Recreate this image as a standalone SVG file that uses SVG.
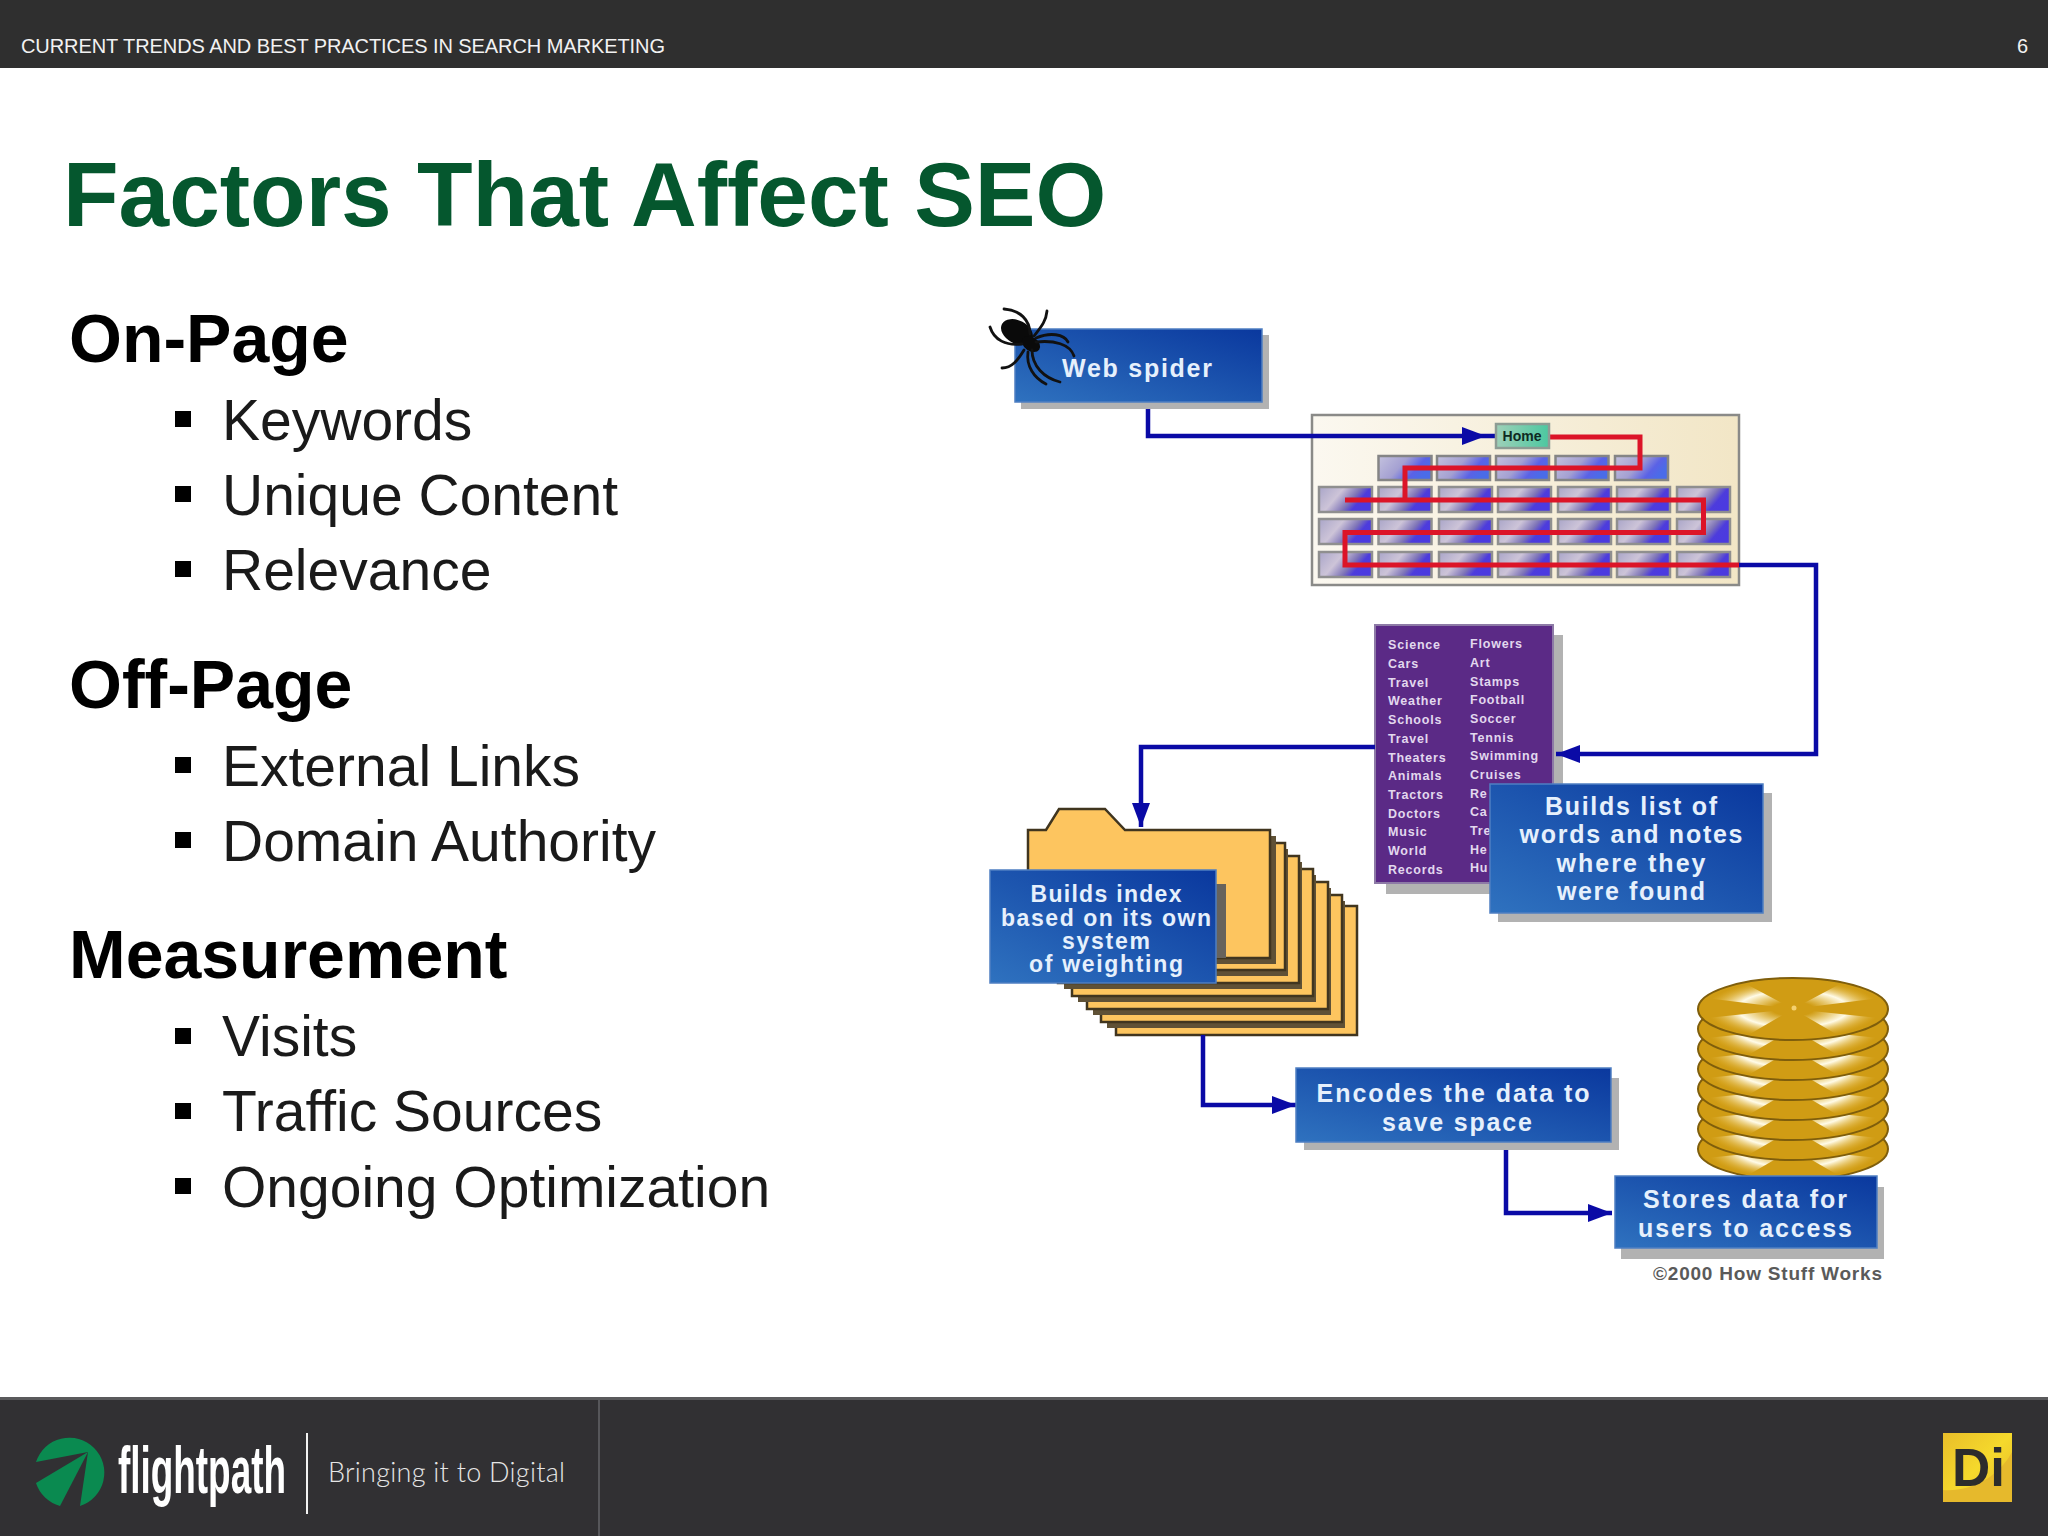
<svg xmlns="http://www.w3.org/2000/svg" width="2048" height="1536" viewBox="0 0 2048 1536">
<style>
text{font-family:"Liberation Sans",Arial,sans-serif}
.h{font-size:68px;font-weight:700;fill:#000}
.b{font-size:57px;fill:#1a1a1a}
.sq{fill:#000;width:16px;height:16px}
.box{fill:url(#blue);stroke:#4f7fc2;stroke-width:1.5}
.sh{fill:#b2b2b2}
.bt{font-weight:700;fill:#e6f0fc;text-anchor:middle}
.bt25{font-size:25px}
.bt23{font-size:23px}
.li{font-size:12.5px;font-weight:700;fill:#e2d8ee;letter-spacing:.8px}
.con{fill:none;stroke:#0a0aa6;stroke-width:4.5;stroke-linejoin:miter}
.red{fill:none;stroke:#dc1428;stroke-width:5}
.sheet{fill:#fdc55f;stroke:#40351f;stroke-width:2.5}
.sheetsh{fill:#5f5136}
.leg{fill:none;stroke:#111;stroke-width:2.8;stroke-linecap:round}
</style>
<defs>
<linearGradient id="blue" x1="0" y1="1" x2="1" y2="0"><stop offset="0" stop-color="#2f72bf"/><stop offset="1" stop-color="#0a389e"/></linearGradient>
<linearGradient id="pgf" x1="0" y1="0" x2="1" y2="0.4"><stop offset="0" stop-color="#a9a5c8"/><stop offset=".42" stop-color="#cdc4d8"/><stop offset=".7" stop-color="#7e74b8"/><stop offset=".85" stop-color="#4d3cdc"/><stop offset="1" stop-color="#4b3ae0"/></linearGradient>
<linearGradient id="pgt" x1="0" y1="0" x2="1" y2="0.4"><stop offset="0" stop-color="#c4c2de"/><stop offset=".5" stop-color="#a4a0d2"/><stop offset=".8" stop-color="#5a62e6"/><stop offset="1" stop-color="#4a6ce8"/></linearGradient>
<linearGradient id="map" x1="0" y1="0" x2="1" y2="0"><stop offset="0" stop-color="#fbf8f0"/><stop offset="1" stop-color="#f2e6c6"/></linearGradient>
<linearGradient id="home" x1="0" y1="0" x2="1" y2="0"><stop offset="0" stop-color="#9ed0b8"/><stop offset="1" stop-color="#4cc8a0"/></linearGradient>
<linearGradient id="di" x1="0" y1="0" x2="1" y2="1"><stop offset="0" stop-color="#e9be2a"/><stop offset=".5" stop-color="#f5d92c"/><stop offset="1" stop-color="#e4b82a"/></linearGradient>
<radialGradient id="glint" gradientUnits="userSpaceOnUse" cx="0" cy="0" r="95" gradientTransform="scale(1 .33)"><stop offset=".22" stop-color="#fff3c0" stop-opacity="0"/><stop offset=".58" stop-color="#fffbe8"/><stop offset=".92" stop-color="#e8bc40" stop-opacity="0"/></radialGradient>
<rect id="pg" width="53" height="25" fill="url(#pgf)" stroke="#8f8f8f" stroke-width="2.5"/>
<rect id="pt" width="53" height="24" fill="url(#pgt)" stroke="#858585" stroke-width="2.5"/>
<clipPath id="dc"><ellipse cx="0" cy="0" rx="95" ry="31"/></clipPath>
<g id="disk">
<ellipse cx="0" cy="0" rx="95" ry="31" fill="#d09c14" stroke="#7f5e0c" stroke-width="2"/>
<g clip-path="url(#dc)" fill="url(#glint)">
<path d="M0 0L-95 -12L-60 -32Z"/><path d="M0 0L95 -12L60 -32Z"/><path d="M0 0L-95 10L-55 32Z"/><path d="M0 0L95 10L55 32Z"/>
</g>
</g>
<marker id="ah" markerUnits="userSpaceOnUse" markerWidth="26" markerHeight="20" refX="24" refY="9" orient="auto"><path d="M0 0L24 9L0 18Z" fill="#0a0aa6"/></marker>
</defs>

<rect width="2048" height="1536" fill="#fff"/>

<g id="header">
<rect width="2048" height="68" fill="#2f2f2f"/>
<text x="21" y="53" font-size="20" fill="#f2f2f2" textLength="644">CURRENT TRENDS AND BEST PRACTICES IN SEARCH MARKETING</text>
<text x="2028" y="53" font-size="20" fill="#f2f2f2" text-anchor="end">6</text>
</g>

<text id="title" x="63" y="226" font-size="91" font-weight="700" fill="#05572e">Factors That Affect SEO</text>

<g id="bullets">
<text class="h" x="69" y="362">On-Page</text>
<rect class="sq" x="175" y="411"/><text class="b" x="222" y="440">Keywords</text>
<rect class="sq" x="175" y="486"/><text class="b" x="222" y="515">Unique Content</text>
<rect class="sq" x="175" y="561"/><text class="b" x="222" y="590">Relevance</text>
<text class="h" x="69" y="708">Off-Page</text>
<rect class="sq" x="175" y="757"/><text class="b" x="222" y="786">External Links</text>
<rect class="sq" x="175" y="832"/><text class="b" x="222" y="861">Domain Authority</text>
<text class="h" x="69" y="978">Measurement</text>
<rect class="sq" x="175" y="1028"/><text class="b" x="222" y="1056">Visits</text>
<rect class="sq" x="175" y="1103"/><text class="b" x="222" y="1131">Traffic Sources</text>
<rect class="sq" x="175" y="1178"/><text class="b" x="222" y="1207">Ongoing Optimization</text>
</g>

<g id="site-map">
<rect x="1312" y="415" width="427" height="170" fill="url(#map)" stroke="#8a8a88" stroke-width="2.5"/>
<use href="#pt" x="1378.5" y="456"/><use href="#pt" x="1437" y="456"/><use href="#pt" x="1496" y="456"/><use href="#pt" x="1555.5" y="456"/><use href="#pt" x="1615" y="456"/>
<use href="#pg" x="1319" y="487"/><use href="#pg" x="1378.5" y="487"/><use href="#pg" x="1439" y="487"/><use href="#pg" x="1498" y="487"/><use href="#pg" x="1558" y="487"/><use href="#pg" x="1617" y="487"/><use href="#pg" x="1677" y="487"/>
<use href="#pg" x="1319" y="519"/><use href="#pg" x="1378.5" y="519"/><use href="#pg" x="1439" y="519"/><use href="#pg" x="1498" y="519"/><use href="#pg" x="1558" y="519"/><use href="#pg" x="1617" y="519"/><use href="#pg" x="1677" y="519"/>
<use href="#pg" x="1319" y="552"/><use href="#pg" x="1378.5" y="552"/><use href="#pg" x="1439" y="552"/><use href="#pg" x="1498" y="552"/><use href="#pg" x="1558" y="552"/><use href="#pg" x="1617" y="552"/><use href="#pg" x="1677" y="552"/>
</g>

<g id="word-list">
<rect x="1386" y="635" width="177" height="259" class="sh"/>
<rect x="1375" y="625" width="178" height="258" fill="#5b2a86" stroke="#8d7aa6" stroke-width="2"/>
<text class="li" x="1388" y="649">Science</text>
<text class="li" x="1388" y="668">Cars</text>
<text class="li" x="1388" y="687">Travel</text>
<text class="li" x="1388" y="705">Weather</text>
<text class="li" x="1388" y="724">Schools</text>
<text class="li" x="1388" y="743">Travel</text>
<text class="li" x="1388" y="762">Theaters</text>
<text class="li" x="1388" y="780">Animals</text>
<text class="li" x="1388" y="799">Tractors</text>
<text class="li" x="1388" y="818">Doctors</text>
<text class="li" x="1388" y="836">Music</text>
<text class="li" x="1388" y="855">World</text>
<text class="li" x="1388" y="874">Records</text>
<text class="li" x="1470" y="648">Flowers</text>
<text class="li" x="1470" y="667">Art</text>
<text class="li" x="1470" y="686">Stamps</text>
<text class="li" x="1470" y="704">Football</text>
<text class="li" x="1470" y="723">Soccer</text>
<text class="li" x="1470" y="742">Tennis</text>
<text class="li" x="1470" y="760">Swimming</text>
<text class="li" x="1470" y="779">Cruises</text>
<text class="li" x="1470" y="798">Re</text>
<text class="li" x="1470" y="816">Ca</text>
<text class="li" x="1470" y="835">Tre</text>
<text class="li" x="1470" y="854">He</text>
<text class="li" x="1470" y="872">Hu</text>
</g>

<g id="folders">
<rect class="sheet" x="1116" y="906" width="241" height="129" stroke="#6e5e40"/>
<rect class="sheetsh" x="1107" y="901" width="238" height="127"/><rect class="sheet" x="1101" y="895" width="241" height="127"/>
<rect class="sheetsh" x="1093" y="888" width="238" height="127"/><rect class="sheet" x="1087" y="882" width="241" height="127"/>
<rect class="sheetsh" x="1078" y="875" width="238" height="127"/><rect class="sheet" x="1072" y="869" width="241" height="127"/>
<rect class="sheetsh" x="1064" y="862" width="238" height="127"/><rect class="sheet" x="1058" y="856" width="241" height="127"/>
<rect class="sheetsh" x="1050" y="849" width="238" height="127"/><rect class="sheet" x="1044" y="843" width="241" height="127"/>
<rect class="sheetsh" x="1035" y="836" width="241" height="128"/>
<path class="sheet" stroke-width="3" d="M1028 958V830H1046L1059 809H1105L1125 830H1270V958Z"/>
</g>

<g id="connectors">
<path class="red" d="M1549 437H1640V468H1405V500"/>
<path class="red" d="M1345 500H1703.5V532.5H1345V565H1739"/>
<path class="con" d="M1148 402V436H1486" marker-end="url(#ah)"/>
<path class="con" d="M1486 436H1496"/>
<path class="con" d="M1739 565H1816V754H1556" marker-end="url(#ah)"/>
<path class="con" d="M1375 747H1141V827" marker-end="url(#ah)"/>
<path class="con" d="M1203 1035V1105H1296" marker-end="url(#ah)"/>
<path class="con" d="M1506 1148V1213H1612" marker-end="url(#ah)"/>
</g>

<g id="home">
<rect x="1496" y="424" width="53" height="24" fill="url(#home)" stroke="#8d9c94" stroke-width="2.5"/>
<text x="1522" y="441" font-size="14" font-weight="700" fill="#0e2a22" text-anchor="middle">Home</text>
</g>

<g id="web-spider">
<rect class="sh" x="1021" y="335" width="248" height="74"/>
<rect class="box" x="1015" y="329" width="247" height="73"/>
<text class="bt bt25" x="1137" y="377" textLength="150">Web spider</text>
</g>

<g id="spider">
<ellipse cx="1017" cy="332" rx="17" ry="11.5" fill="#0a0a0a" transform="rotate(28 1017 332)"/>
<ellipse cx="1031" cy="344" rx="10" ry="7" fill="#0a0a0a" transform="rotate(35 1031 344)"/>
<path class="leg" d="M1030 334C1030 320 1020 310 1004 309"/>
<path class="leg" d="M1034 336C1040 328 1046 322 1047 311"/>
<path class="leg" d="M1022 344C1006 346 994 340 990 327"/>
<path class="leg" d="M1024 350C1018 360 1012 368 1002 368"/>
<path class="leg" d="M1036 338C1050 332 1064 334 1068 342"/>
<path class="leg" d="M1036 342C1054 340 1070 344 1074 356"/>
<path class="leg" d="M1032 350C1032 366 1044 378 1060 382"/>
<path class="leg" d="M1028 352C1026 366 1034 378 1046 384"/>
</g>

<g id="builds-list">
<rect class="sh" x="1498" y="793" width="274" height="129"/>
<rect class="box" x="1490" y="784" width="273" height="129"/>
<text class="bt bt25" x="1631" y="815" textLength="172">Builds list of</text>
<text class="bt bt25" x="1631" y="843" textLength="223">words and notes</text>
<text class="bt bt25" x="1631" y="872" textLength="149">where they</text>
<text class="bt bt25" x="1631" y="900" textLength="148">were found</text>
</g>

<g id="builds-index">
<rect x="1216" y="884" width="10" height="74" fill="#67635c"/>
<rect class="box" x="990" y="870" width="226" height="113"/>
<text class="bt bt23" x="1106" y="902" textLength="151">Builds index</text>
<text class="bt bt23" x="1106" y="926" textLength="210">based on its own</text>
<text class="bt bt23" x="1106" y="949" textLength="88">system</text>
<text class="bt bt23" x="1106" y="972" textLength="154">of weighting</text>
</g>

<g id="encodes">
<rect class="sh" x="1304" y="1078" width="315" height="72"/>
<rect class="box" x="1296" y="1068" width="315" height="74"/>
<text class="bt bt25" x="1453" y="1102" textLength="273">Encodes the data to</text>
<text class="bt bt25" x="1457" y="1131" textLength="150">save space</text>
</g>

<g id="disks">
<use href="#disk" x="1793" y="1149"/><use href="#disk" x="1793" y="1129"/><use href="#disk" x="1793" y="1109"/><use href="#disk" x="1793" y="1089"/><use href="#disk" x="1793" y="1069"/><use href="#disk" x="1793" y="1049"/><use href="#disk" x="1793" y="1029"/><use href="#disk" x="1793" y="1009"/>
<circle cx="1794" cy="1008" r="2.5" fill="#f4d070"/>
</g>

<g id="stores">
<rect class="sh" x="1621" y="1187" width="263" height="72"/>
<rect class="box" x="1615" y="1176" width="262" height="72"/>
<text class="bt bt25" x="1745" y="1208" textLength="204">Stores data for</text>
<text class="bt bt25" x="1745" y="1237" textLength="214">users to access</text>
</g>

<text id="credit" x="1653" y="1280" font-size="19" font-weight="700" fill="#5a5a5a" textLength="229">©2000 How Stuff Works</text>

<g id="footer">
<rect y="1397" width="2048" height="139" fill="#313033"/>
<rect y="1397" width="2048" height="3" fill="#5a5a5c"/>
<rect x="598" y="1400" width="2" height="136" fill="#56565a"/>
<path d="M36 1462A35 35 0 1 1 80 1506L88 1452Z" fill="#0a8a50"/>
<path d="M36 1483A35 35 0 0 0 60 1506L88 1452Z" fill="#0a8a50"/>
<text transform="translate(118 1493) scale(.559 1)" font-size="66" font-weight="700" fill="#fff">flightpath</text>
<rect x="306" y="1433" width="2" height="81" fill="#f2f2f2"/>
<text x="328" y="1482" font-size="27" font-weight="300" fill="#e6e6e6" style="font-family:Lato,'Liberation Sans',sans-serif" textLength="237">Bringing it to Digital</text>
</g>

<g id="di-logo">
<rect x="1943" y="1433" width="69" height="69" fill="url(#di)"/>
<path d="M1943 1502V1490C1970 1492 1998 1478 2012 1452V1502Z" fill="#e6b92c"/>
<text x="1952" y="1486" font-size="53" font-weight="700" fill="#2c2c2c">Di</text>
</g>
</svg>
